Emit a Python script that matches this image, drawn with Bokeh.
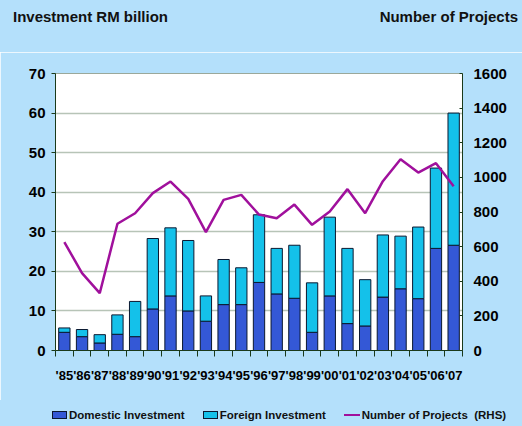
from bokeh.plotting import figure
from bokeh.layouts import column
from bokeh.models import (Range1d, LinearAxis, FixedTicker, ColumnDataSource, Div)
from bokeh.embed import file_html
from bokeh.resources import INLINE

years = ["'85", "'86", "'87", "'88", "'89", "'90", "'91", "'92", "'93", "'94", "'95", "'96",
         "'97", "'98", "'99", "'00", "'01", "'02", "'03", "'04", "'05", "'06", "'07"]
domestic = [4.6, 3.5, 1.9, 4.1, 3.5, 10.5, 13.8, 10.0, 7.4, 11.6, 11.6, 17.2,
            14.3, 13.2, 4.6, 13.8, 6.8, 6.2, 13.5, 15.6, 13.1, 25.8, 26.6]
foreign = [1.1, 1.8, 2.1, 4.9, 8.9, 17.8, 17.2, 17.8, 6.4, 11.4, 9.3, 17.1,
           11.5, 13.4, 12.5, 19.9, 19.0, 11.7, 15.7, 13.3, 18.1, 20.3, 33.4]
projects = [626, 447, 331, 732, 793, 909, 976, 876, 684, 870, 899, 785,
            764, 843, 726, 803, 932, 793, 978, 1105, 1028, 1082, 949]
left_ticks = [0, 10, 20, 30, 40, 50, 60, 70]
right_ticks = [0, 200, 400, 600, 800, 1000, 1200, 1400, 1600]
series_names = ["Domestic Investment", "Foreign Investment", "Number of Projects  (RHS)"]
left_title = "Investment RM billion"
right_title = "Number of Projects"

FONT = "Liberation Sans"
BG = "#b4e0fb"
DOM_C, FOR_C, LINE_C, EDGE_C = "#3458d6", "#14c1ea", "#a0109c", "#0b1830"
W = 522

# ---- top strip with the two axis titles
top_html = (
    f'<div style="position:relative;width:{W}px;height:52px;background:{BG};'
    f'font-family:\'{FONT}\';font-weight:bold;font-size:15px;line-height:18px;color:#111;">'
    f'<span style="position:absolute;left:13px;top:8px;white-space:nowrap;">{left_title}</span>'
    f'<span style="position:absolute;right:4px;top:8px;white-space:nowrap;">{right_title}</span>'
    '</div>')
top = Div(text=top_html, width=W, height=52, styles={"margin": "0", "padding": "0"})

# ---- main chart
xs = list(range(len(years)))
src = ColumnDataSource(dict(x=xs, domestic=domestic, foreign=foreign, projects=projects))

p = figure(width=W, height=348, output_backend="svg", toolbar_location=None,
           x_range=Range1d(-0.5, len(years) - 0.5), y_range=Range1d(0, 70),
           min_border_left=55, min_border_right=60, min_border_top=21, min_border_bottom=50)
p.border_fill_color = BG
p.background_fill_color = "white"
p.outline_line_color = "#9aa89a"
p.extra_y_ranges = {"proj": Range1d(0, 1600)}

p.vbar_stack(["domestic", "foreign"], x="x", width=0.64, source=src,
             color=[DOM_C, FOR_C], line_color=EDGE_C, line_width=1)
p.line("x", "projects", source=src, y_range_name="proj", line_color=LINE_C, line_width=2.5)


def style_labels(ax, size="15px"):
    ax.major_label_text_font = FONT
    ax.major_label_text_font_style = "bold"
    ax.major_label_text_font_size = size
    ax.major_label_text_color = "black"


ya = p.yaxis[0]
ya.ticker = FixedTicker(ticks=left_ticks)
style_labels(ya)
ya.axis_line_color = "#1a3a1a"
ya.major_tick_line_color = "#1a3a1a"
ya.major_tick_in = 0
ya.major_tick_out = 4
ya.minor_tick_line_color = None
ya.major_label_standoff = 6

ra = LinearAxis(y_range_name="proj", ticker=FixedTicker(ticks=right_ticks))
style_labels(ra)
ra.axis_line_color = "#1a3a1a"
ra.major_tick_line_color = "#1a3a1a"
ra.major_tick_in = 3
ra.major_tick_out = 0
ra.minor_tick_line_color = None
ra.major_label_standoff = 11
p.add_layout(ra, "right")

xa = p.xaxis[0]
xa.ticker = FixedTicker(ticks=xs, minor_ticks=[i - 0.5 for i in range(len(years) + 1)])
xa.major_label_overrides = {i: y for i, y in enumerate(years)}
style_labels(xa, "13px")
xa.major_tick_line_color = None
xa.minor_tick_line_color = "#1a3a1a"
xa.minor_tick_out = 6
xa.minor_tick_in = 0
xa.axis_line_color = "#1a3a1a"
xa.major_label_standoff = 11

p.xgrid.grid_line_color = None
p.ygrid.ticker = FixedTicker(ticks=left_ticks[1:-1])
p.ygrid.grid_line_color = "#b7c4b7"
p.ygrid.grid_line_width = 1.5

# ---- legend strip
box = 'display:inline-block;width:15px;height:8px;border:1px solid {e};background:{c};margin-right:2px;'
ln_sw = 'display:inline-block;width:16px;height:0;border-top:2.5px solid {c};margin-right:2px;vertical-align:middle;'
item = 'display:inline-flex;align-items:center;margin-right:18px;white-space:nowrap;'
bot_html = (
    f'<div style="position:relative;width:{W}px;height:26px;background:{BG};'
    f'font-family:\'{FONT}\';font-weight:bold;font-size:11.5px;line-height:14px;color:#111;">'
    '<div style="position:absolute;left:52px;top:8px;display:flex;align-items:center;">'
    f'<span style="{item}"><span style="{box.format(e=EDGE_C, c=DOM_C)}"></span>{series_names[0]}</span>'
    f'<span style="{item}"><span style="{box.format(e=EDGE_C, c=FOR_C)}"></span>{series_names[1]}</span>'
    f'<span style="{item}margin-right:0;"><span style="{ln_sw.format(c=LINE_C)}"></span>'
    f'{series_names[2].replace("  ", "&nbsp; ")}</span>'
    '</div></div>')
bot = Div(text=bot_html, width=W, height=26, styles={"margin": "0", "padding": "0"})

layout = column(top, p, bot, spacing=0)
open("out.html", "w").write(file_html(layout, INLINE))
